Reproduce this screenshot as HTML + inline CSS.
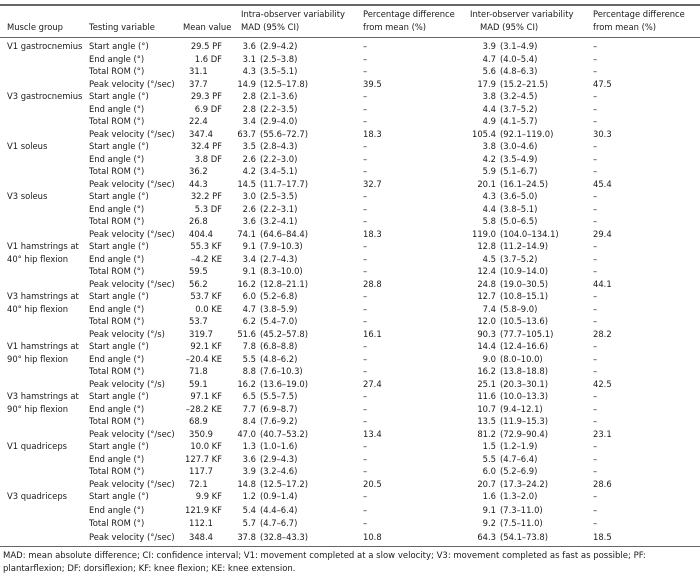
<!DOCTYPE html>
<html><head><meta charset="utf-8">
<style>
body{margin:0;background:#fff;}
#w{position:relative;width:700px;height:578px;overflow:hidden;font-family:"DejaVu Sans","Liberation Sans",sans-serif;font-size:8.4px;color:#1a1a1a;}
#w span{position:absolute;white-space:nowrap;line-height:12px;}
.r{position:absolute;left:0;width:700px;height:12px;}
.g{left:7px}.t{left:89px}.m{left:189px}.ms{left:140px;width:82px;text-align:right}
.a{left:190px;width:66px;text-align:right}.ap{left:260px}
.p1{left:363px}
.b{left:430px;width:66px;text-align:right}.bp{left:500px}
.p2{left:593px}
.rule{position:absolute;left:0;width:700px;background:#666;}
</style></head><body><div id="w">
<div class="rule" style="top:4px;height:2px"></div>
<div class="rule" style="top:37px;height:1px"></div>
<div class="rule" style="top:546px;height:1px"></div>
<span style="left:241px;top:8px">Intra-observer variability</span>
<span style="left:363px;top:8px">Percentage difference</span>
<span style="left:470px;top:8px">Inter-observer variability</span>
<span style="left:593px;top:8px">Percentage difference</span>
<span style="left:7px;top:21px">Muscle group</span>
<span style="left:89px;top:21px">Testing variable</span>
<span style="left:183px;top:21px">Mean value</span>
<span style="left:241px;top:21px">MAD (95% CI)</span>
<span style="left:363px;top:21px">from mean (%)</span>
<span style="left:480px;top:21px">MAD (95% CI)</span>
<span style="left:593px;top:21px">from mean (%)</span>

<div class="r" style="top:40px"><span class="g">V1 gastrocnemius</span><span class="t">Start angle (°)</span><span class="ms">29.5 PF</span><span class="a">3.6</span><span class="ap">(2.9–4.2)</span><span class="p1">–</span><span class="b">3.9</span><span class="bp">(3.1–4.9)</span><span class="p2">–</span></div>
<div class="r" style="top:52.5px"><span class="t">End angle (°)</span><span class="ms">1.6 DF</span><span class="a">3.1</span><span class="ap">(2.5–3.8)</span><span class="p1">–</span><span class="b">4.7</span><span class="bp">(4.0–5.4)</span><span class="p2">–</span></div>
<div class="r" style="top:65px"><span class="t">Total ROM (°)</span><span class="m">31.1</span><span class="a">4.3</span><span class="ap">(3.5–5.1)</span><span class="p1">–</span><span class="b">5.6</span><span class="bp">(4.8–6.3)</span><span class="p2">–</span></div>
<div class="r" style="top:77.5px"><span class="t">Peak velocity (°/sec)</span><span class="m">37.7</span><span class="a">14.9</span><span class="ap">(12.5–17.8)</span><span class="p1">39.5</span><span class="b">17.9</span><span class="bp">(15.2–21.5)</span><span class="p2">47.5</span></div>

<div class="r" style="top:90px"><span class="g">V3 gastrocnemius</span><span class="t">Start angle (°)</span><span class="ms">29.3 PF</span><span class="a">2.8</span><span class="ap">(2.1–3.6)</span><span class="p1">–</span><span class="b">3.8</span><span class="bp">(3.2–4.5)</span><span class="p2">–</span></div>
<div class="r" style="top:102.5px"><span class="t">End angle (°)</span><span class="ms">6.9 DF</span><span class="a">2.8</span><span class="ap">(2.2–3.5)</span><span class="p1">–</span><span class="b">4.4</span><span class="bp">(3.7–5.2)</span><span class="p2">–</span></div>
<div class="r" style="top:115px"><span class="t">Total ROM (°)</span><span class="m">22.4</span><span class="a">3.4</span><span class="ap">(2.9–4.0)</span><span class="p1">–</span><span class="b">4.9</span><span class="bp">(4.1–5.7)</span><span class="p2">–</span></div>
<div class="r" style="top:127.5px"><span class="t">Peak velocity (°/sec)</span><span class="m">347.4</span><span class="a">63.7</span><span class="ap">(55.6–72.7)</span><span class="p1">18.3</span><span class="b">105.4</span><span class="bp">(92.1–119.0)</span><span class="p2">30.3</span></div>

<div class="r" style="top:140px"><span class="g">V1 soleus</span><span class="t">Start angle (°)</span><span class="ms">32.4 PF</span><span class="a">3.5</span><span class="ap">(2.8–4.3)</span><span class="p1">–</span><span class="b">3.8</span><span class="bp">(3.0–4.6)</span><span class="p2">–</span></div>
<div class="r" style="top:152.5px"><span class="t">End angle (°)</span><span class="ms">3.8 DF</span><span class="a">2.6</span><span class="ap">(2.2–3.0)</span><span class="p1">–</span><span class="b">4.2</span><span class="bp">(3.5–4.9)</span><span class="p2">–</span></div>
<div class="r" style="top:165px"><span class="t">Total ROM (°)</span><span class="m">36.2</span><span class="a">4.2</span><span class="ap">(3.4–5.1)</span><span class="p1">–</span><span class="b">5.9</span><span class="bp">(5.1–6.7)</span><span class="p2">–</span></div>
<div class="r" style="top:177.5px"><span class="t">Peak velocity (°/sec)</span><span class="m">44.3</span><span class="a">14.5</span><span class="ap">(11.7–17.7)</span><span class="p1">32.7</span><span class="b">20.1</span><span class="bp">(16.1–24.5)</span><span class="p2">45.4</span></div>

<div class="r" style="top:190px"><span class="g">V3 soleus</span><span class="t">Start angle (°)</span><span class="ms">32.2 PF</span><span class="a">3.0</span><span class="ap">(2.5–3.5)</span><span class="p1">–</span><span class="b">4.3</span><span class="bp">(3.6–5.0)</span><span class="p2">–</span></div>
<div class="r" style="top:202.5px"><span class="t">End angle (°)</span><span class="ms">5.3 DF</span><span class="a">2.6</span><span class="ap">(2.2–3.1)</span><span class="p1">–</span><span class="b">4.4</span><span class="bp">(3.8–5.1)</span><span class="p2">–</span></div>
<div class="r" style="top:215px"><span class="t">Total ROM (°)</span><span class="m">26.8</span><span class="a">3.6</span><span class="ap">(3.2–4.1)</span><span class="p1">–</span><span class="b">5.8</span><span class="bp">(5.0–6.5)</span><span class="p2">–</span></div>
<div class="r" style="top:227.5px"><span class="t">Peak velocity (°/sec)</span><span class="m">404.4</span><span class="a">74.1</span><span class="ap">(64.6–84.4)</span><span class="p1">18.3</span><span class="b">119.0</span><span class="bp">(104.0–134.1)</span><span class="p2">29.4</span></div>

<div class="r" style="top:240px"><span class="g">V1 hamstrings at</span><span class="t">Start angle (°)</span><span class="ms">55.3 KF</span><span class="a">9.1</span><span class="ap">(7.9–10.3)</span><span class="p1">–</span><span class="b">12.8</span><span class="bp">(11.2–14.9)</span><span class="p2">–</span></div>
<div class="r" style="top:252.5px"><span class="g">40° hip flexion</span><span class="t">End angle (°)</span><span class="ms">–4.2 KE</span><span class="a">3.4</span><span class="ap">(2.7–4.3)</span><span class="p1">–</span><span class="b">4.5</span><span class="bp">(3.7–5.2)</span><span class="p2">–</span></div>
<div class="r" style="top:265px"><span class="t">Total ROM (°)</span><span class="m">59.5</span><span class="a">9.1</span><span class="ap">(8.3–10.0)</span><span class="p1">–</span><span class="b">12.4</span><span class="bp">(10.9–14.0)</span><span class="p2">–</span></div>
<div class="r" style="top:277.5px"><span class="t">Peak velocity (°/sec)</span><span class="m">56.2</span><span class="a">16.2</span><span class="ap">(12.8–21.1)</span><span class="p1">28.8</span><span class="b">24.8</span><span class="bp">(19.0–30.5)</span><span class="p2">44.1</span></div>

<div class="r" style="top:290px"><span class="g">V3 hamstrings at</span><span class="t">Start angle (°)</span><span class="ms">53.7 KF</span><span class="a">6.0</span><span class="ap">(5.2–6.8)</span><span class="p1">–</span><span class="b">12.7</span><span class="bp">(10.8–15.1)</span><span class="p2">–</span></div>
<div class="r" style="top:302.5px"><span class="g">40° hip flexion</span><span class="t">End angle (°)</span><span class="ms">0.0 KE</span><span class="a">4.7</span><span class="ap">(3.8–5.9)</span><span class="p1">–</span><span class="b">7.4</span><span class="bp">(5.8–9.0)</span><span class="p2">–</span></div>
<div class="r" style="top:315px"><span class="t">Total ROM (°)</span><span class="m">53.7</span><span class="a">6.2</span><span class="ap">(5.4–7.0)</span><span class="p1">–</span><span class="b">12.0</span><span class="bp">(10.5–13.6)</span><span class="p2">–</span></div>
<div class="r" style="top:327.5px"><span class="t">Peak velocity (°/s)</span><span class="m">319.7</span><span class="a">51.6</span><span class="ap">(45.2–57.8)</span><span class="p1">16.1</span><span class="b">90.3</span><span class="bp">(77.7–105.1)</span><span class="p2">28.2</span></div>

<div class="r" style="top:340px"><span class="g">V1 hamstrings at</span><span class="t">Start angle (°)</span><span class="ms">92.1 KF</span><span class="a">7.8</span><span class="ap">(6.8–8.8)</span><span class="p1">–</span><span class="b">14.4</span><span class="bp">(12.4–16.6)</span><span class="p2">–</span></div>
<div class="r" style="top:352.5px"><span class="g">90° hip flexion</span><span class="t">End angle (°)</span><span class="ms">–20.4 KE</span><span class="a">5.5</span><span class="ap">(4.8–6.2)</span><span class="p1">–</span><span class="b">9.0</span><span class="bp">(8.0–10.0)</span><span class="p2">–</span></div>
<div class="r" style="top:365px"><span class="t">Total ROM (°)</span><span class="m">71.8</span><span class="a">8.8</span><span class="ap">(7.6–10.3)</span><span class="p1">–</span><span class="b">16.2</span><span class="bp">(13.8–18.8)</span><span class="p2">–</span></div>
<div class="r" style="top:377.5px"><span class="t">Peak velocity (°/s)</span><span class="m">59.1</span><span class="a">16.2</span><span class="ap">(13.6–19.0)</span><span class="p1">27.4</span><span class="b">25.1</span><span class="bp">(20.3–30.1)</span><span class="p2">42.5</span></div>

<div class="r" style="top:390px"><span class="g">V3 hamstrings at</span><span class="t">Start angle (°)</span><span class="ms">97.1 KF</span><span class="a">6.5</span><span class="ap">(5.5–7.5)</span><span class="p1">–</span><span class="b">11.6</span><span class="bp">(10.0–13.3)</span><span class="p2">–</span></div>
<div class="r" style="top:402.5px"><span class="g">90° hip flexion</span><span class="t">End angle (°)</span><span class="ms">–28.2 KE</span><span class="a">7.7</span><span class="ap">(6.9–8.7)</span><span class="p1">–</span><span class="b">10.7</span><span class="bp">(9.4–12.1)</span><span class="p2">–</span></div>
<div class="r" style="top:415px"><span class="t">Total ROM (°)</span><span class="m">68.9</span><span class="a">8.4</span><span class="ap">(7.6–9.2)</span><span class="p1">–</span><span class="b">13.5</span><span class="bp">(11.9–15.3)</span><span class="p2">–</span></div>
<div class="r" style="top:427.5px"><span class="t">Peak velocity (°/sec)</span><span class="m">350.9</span><span class="a">47.0</span><span class="ap">(40.7–53.2)</span><span class="p1">13.4</span><span class="b">81.2</span><span class="bp">(72.9–90.4)</span><span class="p2">23.1</span></div>

<div class="r" style="top:440px"><span class="g">V1 quadriceps</span><span class="t">Start angle (°)</span><span class="ms">10.0 KF</span><span class="a">1.3</span><span class="ap">(1.0–1.6)</span><span class="p1">–</span><span class="b">1.5</span><span class="bp">(1.2–1.9)</span><span class="p2">–</span></div>
<div class="r" style="top:452.5px"><span class="t">End angle (°)</span><span class="ms">127.7 KF</span><span class="a">3.6</span><span class="ap">(2.9–4.3)</span><span class="p1">–</span><span class="b">5.5</span><span class="bp">(4.7–6.4)</span><span class="p2">–</span></div>
<div class="r" style="top:465px"><span class="t">Total ROM (°)</span><span class="m">117.7</span><span class="a">3.9</span><span class="ap">(3.2–4.6)</span><span class="p1">–</span><span class="b">6.0</span><span class="bp">(5.2–6.9)</span><span class="p2">–</span></div>
<div class="r" style="top:477.5px"><span class="t">Peak velocity (°/sec)</span><span class="m">72.1</span><span class="a">14.8</span><span class="ap">(12.5–17.2)</span><span class="p1">20.5</span><span class="b">20.7</span><span class="bp">(17.3–24.2)</span><span class="p2">28.6</span></div>

<div class="r" style="top:490px"><span class="g">V3 quadriceps</span><span class="t">Start angle (°)</span><span class="ms">9.9 KF</span><span class="a">1.2</span><span class="ap">(0.9–1.4)</span><span class="p1">–</span><span class="b">1.6</span><span class="bp">(1.3–2.0)</span><span class="p2">–</span></div>
<div class="r" style="top:503.5px"><span class="t">End angle (°)</span><span class="ms">121.9 KF</span><span class="a">5.4</span><span class="ap">(4.4–6.4)</span><span class="p1">–</span><span class="b">9.1</span><span class="bp">(7.3–11.0)</span><span class="p2">–</span></div>
<div class="r" style="top:517px"><span class="t">Total ROM (°)</span><span class="m">112.1</span><span class="a">5.7</span><span class="ap">(4.7–6.7)</span><span class="p1">–</span><span class="b">9.2</span><span class="bp">(7.5–11.0)</span><span class="p2">–</span></div>
<div class="r" style="top:531px"><span class="t">Peak velocity (°/sec)</span><span class="m">348.4</span><span class="a">37.8</span><span class="ap">(32.8–43.3)</span><span class="p1">10.8</span><span class="b">64.3</span><span class="bp">(54.1–73.8)</span><span class="p2">18.5</span></div>

<span style="left:3px;top:550px;font-size:8.5px">MAD: mean absolute difference; CI: confidence interval; V1: movement completed at a slow velocity; V3: movement completed as fast as possible; PF:</span>
<span style="left:3px;top:563px;font-size:8.5px">plantarflexion; DF: dorsiflexion; KF: knee flexion; KE: knee extension.</span>
</div></body></html>
